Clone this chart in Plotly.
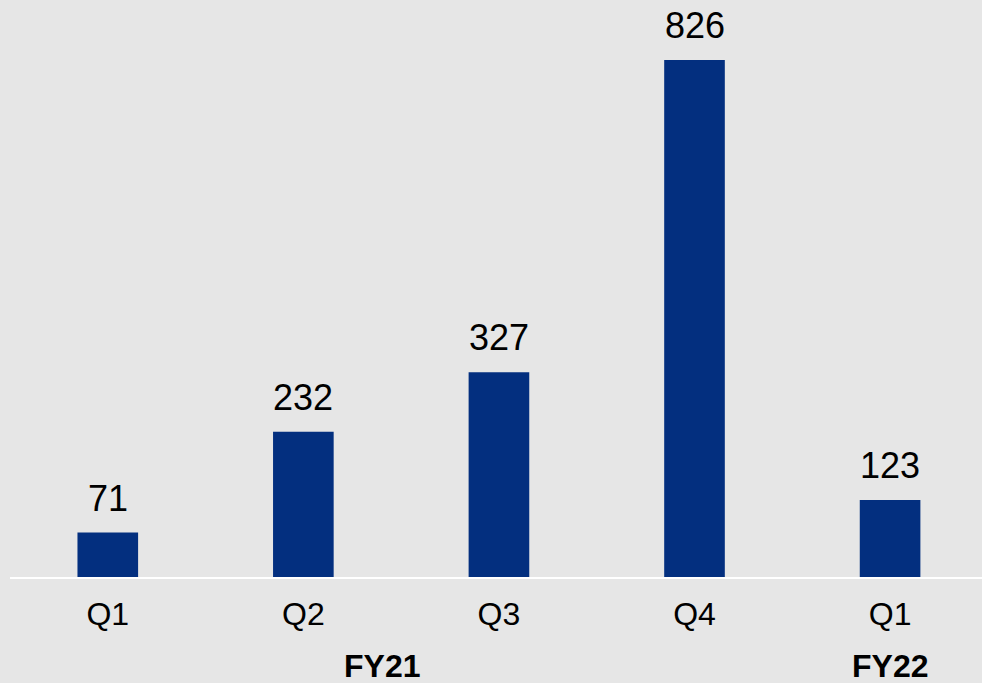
import plotly.graph_objects as go

quarters = ["Q1", "Q2", "Q3", "Q4", "Q1"]
values = [71, 232, 327, 826, 123]
years = ["FY21", "FY22"]
year_pos = [1.4, 4]

xs = list(range(len(values)))
fig = go.Figure()
fig.add_trace(go.Bar(x=xs, y=values, width=0.31, marker=dict(color="#032f7f", line=dict(width=0)),
                     hoverinfo="skip"))
for x, v in zip(xs, values):
    fig.add_annotation(x=x, y=v, text=str(v), showarrow=False, yanchor="bottom", yshift=12,
                       font=dict(size=36, color="#000000", family="Liberation Sans, Arial"))
for x, t in zip(year_pos, years):
    fig.add_annotation(x=x, y=-0.154, yref="paper", text="<b>%s</b>" % t, showarrow=False,
                       yanchor="middle", font=dict(size=32, color="#000000", family="Liberation Sans, Arial"))

fig.update_layout(
    width=982, height=683,
    margin=dict(l=10, r=0, t=0, b=106),
    paper_bgcolor="#e6e6e6", plot_bgcolor="#e6e6e6",
    showlegend=False,
    font=dict(family="Liberation Sans, Arial", color="#000000"),
    xaxis=dict(tickvals=xs, ticktext=quarters, range=[-0.5, 4.47], showgrid=False, zeroline=False,
               showline=True, linecolor="#ffffff", linewidth=2, ticks="", ticklabelstandoff=8,
               tickfont=dict(size=32, color="#000000")),
    yaxis=dict(range=[0, 921.7], visible=False, showgrid=False, zeroline=False),
)
fig.write_html("out.html", config={"displayModeBar": False},
               post_script="document.body.style.margin='0';document.body.style.overflow='hidden';")
